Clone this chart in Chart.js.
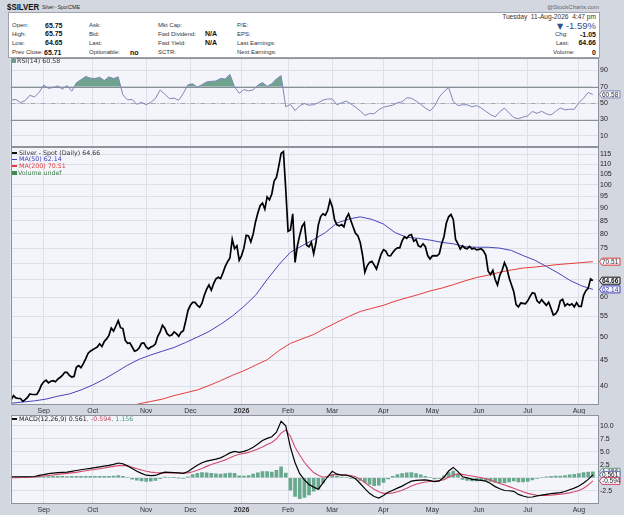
<!DOCTYPE html>
<html>
<head>
<meta charset="utf-8">
<script src="https://cdn.jsdelivr.net/npm/chart.js@4.4.1/dist/chart.umd.min.js"></script>
<style>
  html, body { margin:0; padding:0; }
  body { width:624px; height:515px; position:relative; overflow:hidden; background:#d3d7e0; font-family:"Liberation Sans", Arial, sans-serif; color:#222; }
  .t { position:absolute; white-space:nowrap; line-height:1; }
  canvas { position:absolute; left:0; }
  #info { position:absolute; left:8px; top:12px; width:590px; height:44px; background:#fff; border:1px solid #9ea3ae; }
  .l { font-size:6px; color:#333; }
  .v { font-size:7px; font-weight:bold; color:#111; }
  .lg { font-family:"DejaVu Sans", sans-serif; font-size:6.3px; }
  .dash { position:absolute; width:5px; height:1.6px; }
</style>
</head>
<body>
<div class="t" style="left:7px;top:1.5px;font-size:9.5px;font-weight:bold;color:#111;transform:scaleX(0.83);transform-origin:0 0;">$SILVER</div>
<div class="t" style="left:42px;top:4px;font-size:6px;color:#222;transform:scaleX(0.78);transform-origin:0 0;">Silver - Spot</div>
<div class="t" style="left:68px;top:4.5px;font-size:5.5px;color:#222;">CME</div>
<div class="t" style="right:25px;top:4px;font-size:6px;color:#666;">@StockCharts.com</div>

<div id="info"></div>
<div class="t l" style="left:12px;top:22px;">Open:</div>
<div class="t l" style="left:12px;top:30.7px;">High:</div>
<div class="t l" style="left:12px;top:39.7px;">Low:</div>
<div class="t l" style="left:12px;top:49.3px;">Prev Close:</div>
<div class="t v" style="left:45px;top:21.5px;">65.75</div>
<div class="t v" style="left:45px;top:30.2px;">65.75</div>
<div class="t v" style="left:45px;top:39.2px;">64.65</div>
<div class="t v" style="left:44px;top:48.8px;">65.71</div>
<div class="t l" style="left:89px;top:22px;">Ask:</div>
<div class="t l" style="left:89px;top:30.7px;">Bid:</div>
<div class="t l" style="left:89px;top:39.7px;">Last:</div>
<div class="t l" style="left:89px;top:49.3px;">Optionable:</div>
<div class="t v" style="left:130px;top:48.8px;">no</div>
<div class="t l" style="left:158px;top:22px;">Mkt Cap:</div>
<div class="t l" style="left:158px;top:30.7px;">Fwd Dividend:</div>
<div class="t l" style="left:158px;top:39.7px;">Fwd Yield:</div>
<div class="t l" style="left:158px;top:49.3px;">SCTR:</div>
<div class="t v" style="left:205px;top:30.2px;">N/A</div>
<div class="t v" style="left:205px;top:39.2px;">N/A</div>
<div class="t l" style="left:237px;top:22px;">P/E:</div>
<div class="t l" style="left:237px;top:30.7px;">EPS:</div>
<div class="t l" style="left:237px;top:39.7px;">Last Earnings:</div>
<div class="t l" style="left:237px;top:49.3px;">Next Earnings:</div>

<div class="t" style="right:28px;top:13.5px;font-size:6.6px;color:#333;">Tuesday&nbsp; 11-Aug-2026&nbsp; 4:47 pm</div>
<div class="t" style="right:28px;top:21px;font-size:9.5px;color:#2f4f8f;"><span style="font-family:'DejaVu Sans';font-size:8px;">▼</span> -1.59%</div>
<div class="t l" style="left:555px;top:31px;">Chg:</div>
<div class="t v" style="right:28px;top:30.5px;">-1.05</div>
<div class="t l" style="left:556px;top:39.7px;">Last:</div>
<div class="t v" style="right:28px;top:39.2px;">64.66</div>
<div class="t l" style="left:553px;top:49.3px;">Volume:</div>
<div class="t v" style="right:28px;top:48.8px;">0</div>

<canvas id="rsiChart" width="624" height="90" style="top:57px;width:624px;height:90px;"></canvas>
<canvas id="priceChart" width="624" height="267" style="top:147px;width:624px;height:267px;"></canvas>
<canvas id="macdChart" width="624" height="101" style="top:414px;width:624px;height:101px;"></canvas>

<!-- panel captions -->
<div class="t" style="left:12px;top:59px;width:4px;height:4px;background:#6f9f8c;"></div>
<div class="t lg" style="left:17px;top:58px;color:#333;">RSI(14) 60.58</div>

<div class="dash" style="left:12px;top:152px;background:#111;"></div>
<div class="t lg" style="left:19px;top:149.5px;color:#333;">Silver - Spot (Daily) 64.66</div>
<div class="dash" style="left:12px;top:158.8px;background:#3c3cb4;"></div>
<div class="t lg" style="left:19px;top:156.3px;color:#3c3cb4;">MA(50) 62.14</div>
<div class="dash" style="left:12px;top:165.3px;background:#e23a3a;"></div>
<div class="t lg" style="left:19px;top:162.8px;color:#e23a3a;">MA(200) 70.51</div>
<div class="t" style="left:12px;top:170.5px;width:5px;height:4px;background:#3f8a4f;"></div>
<div class="t lg" style="left:18px;top:169.5px;color:#3f7f4a;">Volume undef</div>

<div class="dash" style="left:12px;top:418px;background:#111;"></div>
<div class="t lg" style="left:19px;top:415.5px;color:#222;">MACD(12,26,9) 0.561<span style="color:#c8405f;">, -0.594</span><span style="color:#4f9a80;">, 1.156</span></div>

<script>
// ---------- data ----------
const monthIdx = [14, 35, 58, 77, 99, 119, 138, 160, 181, 201, 222, 244];
const monthLabels = ['Sep', 'Oct', 'Nov', 'Dec', '2026', 'Feb', 'Mar', 'Apr', 'May', 'Jun', 'Jul', 'Aug'];
const priceTicks = [40, 45, 50, 55, 60, 65, 70, 75, 80, 85, 90, 95, 100, 105, 110, 115];
const rsiTicks = [10, 30, 50, 70, 90];
const macdTicks = [-2.5, 0, 2.5, 5, 7.5, 10];

// daily close, trading day 0 .. 250
const price = [
  37.6,38.3,37.9,37.8,37.8,37.3,37.6,38.0,38.6,38.5,
  38.5,38.5,39.2,40.2,40.8,41.1,40.6,40.9,41.0,40.8,
  41.3,41.6,42.0,42.6,42.6,42.0,41.7,41.8,43.6,43.9,
  43.5,44.3,45.3,46.4,46.9,47.2,47.5,47.8,48.5,47.9,
  49.0,49.6,50.4,52.1,51.4,52.6,53.9,52.2,52.0,49.3,
  48.6,48.7,47.8,46.9,47.1,47.6,48.6,48.7,47.8,47.4,
  47.8,48.0,48.5,50.2,51.2,52.8,52.1,50.8,50.3,50.5,
  51.2,50.8,50.2,51.1,51.5,53.8,56.5,57.8,58.6,58.6,
  57.8,57.3,58.4,60.5,62.2,63.4,61.9,63.8,65.2,65.7,
  65.3,67.0,69.0,70.5,71.7,78.1,74.8,75.8,71.0,72.5,
  75.0,79.5,79.3,77.2,80.0,84.5,88.0,91.0,92.1,89.6,
  94.7,93.5,96.0,101.8,103.5,109.0,115.5,116.4,98.0,81.0,
  81.5,87.7,70.3,75.8,79.5,82.8,84.1,76.0,75.5,77.0,
  73.1,77.0,83.4,86.6,87.7,87.1,89.0,93.3,90.6,85.3,
  83.4,83.0,83.5,82.6,86.0,87.7,85.0,82.5,80.2,79.4,
  77.0,72.7,67.2,69.2,70.3,70.6,69.5,68.2,70.6,73.0,
  74.5,74.0,72.5,72.4,73.5,74.5,75.1,75.1,77.5,79.0,
  78.4,79.5,79.8,77.4,78.0,75.8,75.4,76.5,75.5,72.5,
  71.4,72.4,72.5,72.4,73.1,76.5,79.0,84.0,86.5,87.4,
  85.5,78.0,76.5,74.7,75.8,75.0,74.8,75.6,74.7,75.0,
  74.4,74.6,74.8,74.0,72.6,67.5,66.5,67.8,65.0,63.4,
  66.3,67.8,70.2,68.5,65.5,63.5,61.5,58.0,57.4,58.4,
  58.3,58.2,59.0,60.2,61.2,61.0,59.0,58.4,59.3,58.5,
  57.8,58.6,57.0,55.3,55.6,56.6,59.0,59.4,57.6,58.2,
  57.8,58.2,57.4,58.5,57.5,57.5,60.5,61.8,62.5,65.2,
  64.66
];
// moving averages, every 5 trading days
const ma50 = [
  37.0,37.2,37.4,37.7,38.2,38.6,39.3,40.2,41.3,42.6,
  44.0,45.2,46.1,46.9,47.7,48.8,50.0,51.3,53.0,55.0,
  57.5,60.5,65.0,69.5,73.6,75.8,78.0,80.5,84.1,85.6,
  86.5,85.5,83.7,80.5,78.8,78.4,77.8,77.0,76.5,75.5,
  75.3,75.3,75.0,74.2,72.5,71.0,69.0,67.0,64.8,63.2,
  62.14
];
const ma200 = [
  null,null,null,null,null,null,null,null,null,null,
  36.4,36.9,37.3,37.7,38.3,38.8,39.3,40.1,41.0,42.0,
  42.9,44.0,45.1,47.0,48.6,49.6,50.6,52.1,53.5,54.9,
  56.2,57.0,57.8,58.9,59.8,60.7,61.7,62.5,63.5,64.6,
  65.6,66.3,67.2,67.9,68.5,68.8,69.2,69.6,69.9,70.2,
  70.51
];
// indicators, every 2 trading days
const rsi = [
  53.7,54.5,50.5,53,59.5,57.5,63,72,68,69,
  71,67,71.5,64.5,74.8,78.5,82.5,80.5,80,81.5,
  77.5,82,80,82,60,54,54.5,48.5,51,48,
  51,55.7,66,61,55.5,56,53.5,62,72.5,73.5,
  69.5,72.5,75.8,76.5,77,80,79.5,85,70,62,
  66.5,65,66,72,75,70.5,73.5,79.5,83.5,45.5,
  48.4,41,46.7,49.5,47.5,48,50.5,53.7,55,55,
  48,50.5,52.5,49,45,40.5,35,37.3,37,42,
  45,46.3,47.5,50.4,51.5,56.5,56,52.5,48.5,44,
  40.5,46.5,57.5,64,69,52,47,48,48,45.5,
  47,44,40,36,33.3,39.5,44,38,32.5,31,
  33,34.5,39.8,37.5,40,37,35.5,40,44,41.8,
  42.5,42.5,50.5,56,63,60.58
];
const macd = [
  0.2,0.2,0.2,0.2,0.2,0.25,0.45,0.6,0.8,0.9,
  1.0,1.05,1.1,1.25,1.4,1.55,1.7,1.8,1.95,2.1,
  2.25,2.4,2.6,2.85,2.7,2.3,1.8,1.25,0.85,0.5,
  0.4,0.45,0.8,1.1,1.05,1.0,0.95,0.85,1.2,1.85,
  2.4,2.9,3.2,3.4,3.6,3.85,4.3,4.8,5.1,4.9,
  5.1,5.4,5.9,6.5,7.2,7.6,7.9,8.8,10.9,10.0,
  5.9,2.9,0.8,-0.4,-1.3,-1.8,-2.2,-1.0,0.2,1.25,
  0.7,0.5,0.5,0.25,-0.2,-1.1,-2.1,-3.0,-3.6,-3.9,
  -3.4,-2.8,-2.4,-2.0,-1.6,-1.1,-0.65,-0.5,-0.45,-0.4,
  -0.55,-0.75,-0.6,0.1,1.3,2.0,1.2,0.2,0.0,-0.3,
  -0.4,-0.5,-0.65,-1.1,-1.7,-2.1,-2.45,-2.5,-2.6,-3.2,
  -3.5,-3.75,-3.7,-3.5,-3.35,-3.2,-3.05,-2.95,-2.85,-2.65,
  -2.3,-2.0,-1.6,-1.0,-0.3,0.561
];
const signal = [
  0.0,0.02,0.05,0.08,0.1,0.15,0.25,0.35,0.45,0.55,
  0.65,0.75,0.85,0.95,1.05,1.2,1.35,1.5,1.6,1.75,
  1.9,2.05,2.2,2.35,2.4,2.3,2.05,1.75,1.5,1.25,
  1.1,1.0,0.95,0.95,0.95,0.95,0.93,0.9,0.95,1.15,
  1.45,1.8,2.2,2.55,2.85,3.15,3.45,3.85,4.25,4.55,
  4.7,4.9,5.2,5.55,5.95,6.4,6.8,7.5,8.6,9.2,
  8.0,5.9,4.4,3.0,1.9,1.0,0.5,0.1,0.3,0.55,
  0.65,0.6,0.55,0.45,0.2,-0.3,-0.9,-1.6,-2.2,-2.7,
  -3.0,-3.0,-2.9,-2.7,-2.4,-2.0,-1.6,-1.25,-1.0,-0.8,
  -0.7,-0.65,-0.55,-0.35,0.1,0.55,0.75,0.65,0.5,0.35,
  0.2,0.0,-0.2,-0.45,-0.75,-1.1,-1.4,-1.7,-2.0,-2.35,
  -2.7,-3.0,-3.2,-3.35,-3.4,-3.4,-3.35,-3.25,-3.15,-3.05,
  -2.9,-2.7,-2.45,-2.0,-1.4,-0.594
];
const hist = [
  0.15,0.15,0.15,0.15,0.15,0.15,0.2,0.2,0.25,0.3,
  0.3,0.3,0.25,0.3,0.3,0.3,0.3,0.3,0.3,0.3,
  0.3,0.3,0.35,0.45,0.3,0.0,-0.25,-0.45,-0.6,-0.7,
  -0.65,-0.5,-0.15,0.15,0.1,0.05,-0.05,-0.1,0.2,0.6,
  0.85,1.0,0.95,0.85,0.75,0.7,0.8,0.9,0.85,0.4,
  0.35,0.45,0.7,0.95,1.2,1.2,1.1,1.45,2.1,0.9,
  -2.4,-3.6,-4.0,-3.8,-3.3,-2.6,-2.2,-1.0,0.1,0.65,
  0.35,0.15,0.0,-0.1,-0.2,-0.5,-0.9,-1.3,-1.5,-1.4,
  -0.9,-0.2,0.3,0.6,0.8,0.95,1.0,0.8,0.55,0.3,
  0.1,-0.2,-0.1,0.4,1.0,1.3,0.6,-0.3,-0.5,-0.6,
  -0.6,-0.5,-0.5,-0.7,-0.9,-1.0,-1.0,-0.8,-0.6,-0.8,
  -0.8,-0.7,-0.4,-0.1,0.1,0.2,0.3,0.35,0.35,0.45,
  0.55,0.65,0.8,1.0,1.1,1.156
];
const STEP_PRICE = 1, STEP_MA = 5, STEP_IND = 2;

// ---------- helpers ----------
const pts = (arr, step) => arr.map((v, i) => ({ x: i * step, y: v }));
const last = a => a[a.length - 1];

Chart.defaults.font.family = '"Liberation Sans", Arial, sans-serif';
Chart.defaults.font.size = 7;
Chart.defaults.color = '#222';

const PLOT_BG = '#f4f5fa';
const GRID = '#dde0e8';

const panelPlugin = {
  id: 'panel',
  beforeDraw(chart) {
    const { ctx, chartArea: a } = chart;
    ctx.save();
    ctx.fillStyle = PLOT_BG;
    ctx.fillRect(a.left, a.top, a.right - a.left, a.bottom - a.top);
    ctx.restore();
  },
  beforeDatasetsDraw(chart, args, opts) {
    const { ctx, chartArea: a } = chart;
    const y = chart.scales.y;
    (opts.lines || []).forEach(l => {
      const py = Math.round(y.getPixelForValue(l.value)) + 0.5;
      ctx.save();
      ctx.strokeStyle = l.color; ctx.lineWidth = l.width || 1;
      ctx.setLineDash(l.dash || []);
      ctx.beginPath(); ctx.moveTo(a.left, py); ctx.lineTo(a.right, py); ctx.stroke();
      ctx.restore();
    });
  },
  afterDraw(chart, args, opts) {
    const { ctx, chartArea: a } = chart;
    ctx.save();
    ctx.strokeStyle = '#8d929d'; ctx.lineWidth = 1;
    ctx.strokeRect(Math.round(a.left) + 0.5, Math.round(a.top) + 0.5, Math.round(a.right - a.left) - 1, Math.round(a.bottom - a.top) - 1);
    const y = chart.scales.y;
    (opts.boxes || []).forEach(b => {
      const py = y.getPixelForValue(b.value);
      const h = 8, x0 = a.right + 1, w = 21;
      ctx.fillStyle = '#f6f7fb';
      ctx.strokeStyle = b.border; ctx.lineWidth = 1;
      ctx.beginPath();
      ctx.moveTo(x0 + 0.5, py);
      ctx.lineTo(x0 + 3, py - h / 2 + 0.5);
      ctx.lineTo(x0 + w, py - h / 2 + 0.5);
      ctx.lineTo(x0 + w, py + h / 2 - 0.5);
      ctx.lineTo(x0 + 3, py + h / 2 - 0.5);
      ctx.closePath();
      ctx.fill(); ctx.stroke();
      ctx.fillStyle = b.color;
      ctx.font = (b.bold ? 'bold ' : '') + '6.5px "Liberation Sans", Arial, sans-serif';
      ctx.textBaseline = 'middle'; ctx.textAlign = 'left';
      ctx.fillText(b.text, x0 + 3, py + 0.5);
    });
    ctx.restore();
  }
};

function xScale(showLabels, h) {
  return {
    type: 'linear', min: -0.3, max: 252.2, offset: false,
    afterBuildTicks: s => { s.ticks = monthIdx.map(v => ({ value: v })); },
    afterFit: s => { s.height = h; s.paddingLeft = 0; s.paddingRight = 0; },
    grid: { color: GRID, lineWidth: 1, drawTicks: false, offset: false },
    border: { display: false },
    ticks: {
      display: showLabels, autoSkip: false, maxRotation: 0, minRotation: 0, padding: 1.5,
      color: '#333',
      font: c => ({ size: 7, weight: monthLabels[c.index] === '2026' ? 'bold' : 'normal' }),
      callback: (v, i) => monthLabels[i]
    }
  };
}
function yScale(type, min, max, ticks, fmt) {
  return {
    type, position: 'right', min, max,
    afterBuildTicks: s => { s.ticks = ticks.map(v => ({ value: v })); },
    afterFit: s => { s.width = 26; s.paddingTop = 0; s.paddingBottom = 0; },
    grid: { color: GRID, drawTicks: false },
    border: { display: false },
    ticks: { padding: 2, color: '#222', font: { size: 7 }, autoSkip: false, callback: fmt }
  };
}
const base = {
  responsive: false, animation: false, events: [],
  elements: { point: { radius: 0 }, line: { tension: 0 } }
};

// ---------- RSI ----------
new Chart(document.getElementById('rsiChart'), {
  type: 'line',
  data: { datasets: [{
    data: pts(rsi, STEP_IND), borderColor: '#7e87b6', borderWidth: 1,
    fill: { target: { value: 70 }, above: 'rgba(96,154,130,0.9)', below: 'rgba(0,0,0,0)' }
  }] },
  options: Object.assign({}, base, {
    layout: { padding: { left: 10.5, top: 1, right: 0, bottom: 0 } },
    scales: {
      x: xScale(false, 0),
      y: yScale('linear', -3.5, 105, rsiTicks, v => String(v))
    },
    plugins: {
      legend: { display: false }, tooltip: { enabled: false },
      panel: {
        lines: [
          { value: 70, color: '#8a8e98' },
          { value: 30, color: '#8a8e98' },
          { value: 50, color: '#a6a9b2', dash: [5, 2, 1, 2] }
        ],
        boxes: [{ value: last(rsi), text: last(rsi).toFixed(2), border: '#7e87b6', color: '#333' }]
      }
    }
  }),
  plugins: [panelPlugin]
});

// ---------- Price ----------
const priceBoxes = [
  { value: last(ma200), text: last(ma200).toFixed(2), border: '#e23a3a', color: '#333' },
  { value: last(ma50), text: last(ma50).toFixed(2), border: '#4040b8', color: '#3636a8' },
  { value: last(price), text: last(price).toFixed(2), border: '#111', color: '#111', bold: true }
];
new Chart(document.getElementById('priceChart'), {
  type: 'line',
  data: { datasets: [
    { data: pts(price, STEP_PRICE), borderColor: '#000', borderWidth: 1.7 },
    { data: pts(ma50, STEP_MA), borderColor: '#4646b8', borderWidth: 1 },
    { data: pts(ma200, STEP_MA), borderColor: '#e63c3c', borderWidth: 1, spanGaps: false }
  ] },
  options: Object.assign({}, base, {
    layout: { padding: { left: 10.5, top: 0, right: 0, bottom: 0 } },
    scales: {
      x: xScale(true, 9),
      y: yScale('logarithmic', 36.7, 118.9, priceTicks,
        v => priceBoxes.some(b => Math.abs(Math.log(v / b.value)) < 0.03) ? '' : String(v))
    },
    plugins: {
      legend: { display: false }, tooltip: { enabled: false },
      panel: { boxes: priceBoxes }
    }
  }),
  plugins: [panelPlugin]
});

// ---------- MACD ----------
const macdBoxes = [
  { value: last(hist), text: last(hist).toFixed(3), border: '#5a9e84', color: '#333' },
  { value: last(macd), text: last(macd).toFixed(3), border: '#6670b0', color: '#111' },
  { value: last(signal), text: last(signal).toFixed(3), border: '#d04466', color: '#333' }
];
new Chart(document.getElementById('macdChart'), {
  type: 'line',
  data: { datasets: [
    { data: pts(macd, STEP_IND), borderColor: '#000', borderWidth: 1.2 },
    { data: pts(signal, STEP_IND), borderColor: '#d24c6c', borderWidth: 1.1 },
    { type: 'bar', data: pts(hist, STEP_IND), backgroundColor: '#67a88e', borderWidth: 0, barThickness: 3 }
  ] },
  options: Object.assign({}, base, {
    layout: { padding: { left: 10.5, top: 1, right: 0, bottom: 0 } },
    scales: {
      x: xScale(true, 11),
      y: yScale('linear', -5.05, 12.1, macdTicks,
        v => macdBoxes.some(b => Math.abs(v - b.value) < 1.0) ? '' : v.toFixed(1))
    },
    plugins: {
      legend: { display: false }, tooltip: { enabled: false },
      panel: { boxes: macdBoxes }
    }
  }),
  plugins: [panelPlugin]
});
</script>
</body>
</html>
